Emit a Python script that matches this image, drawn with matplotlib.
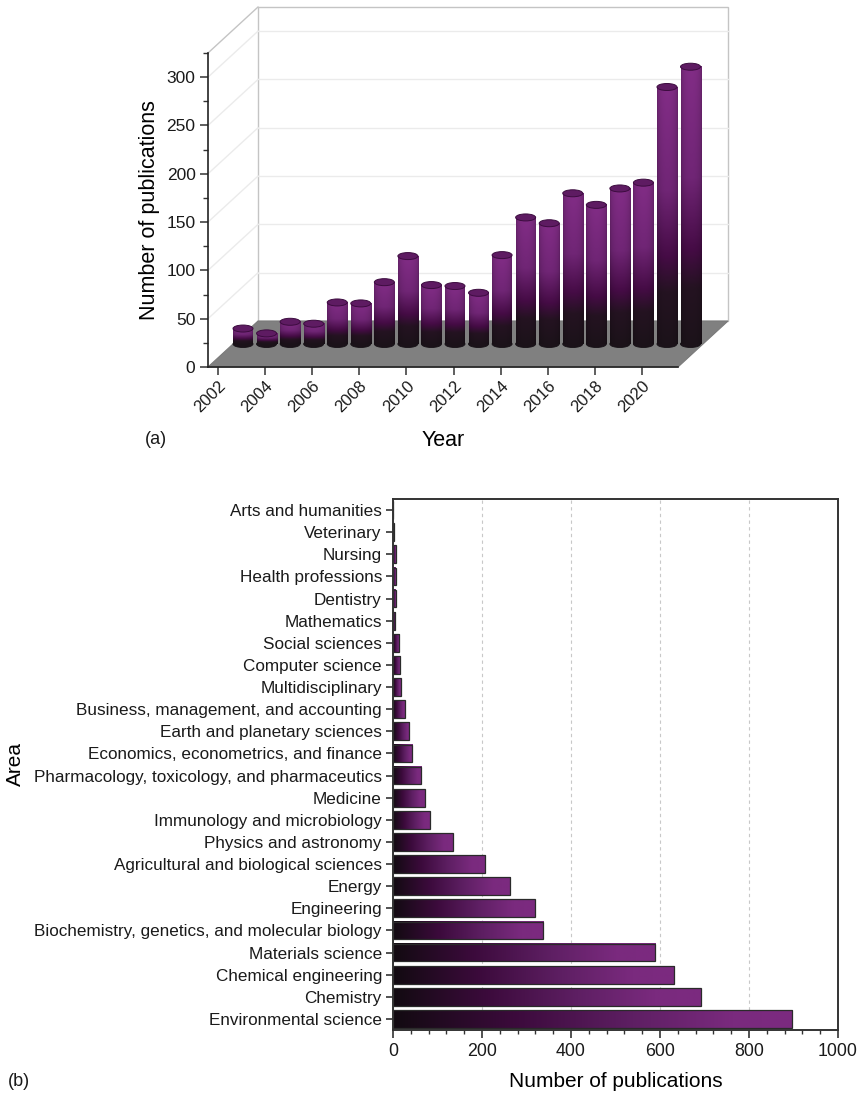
import matplotlib
matplotlib.use("Agg")
import matplotlib.pyplot as plt
import numpy as np
from matplotlib.colors import LinearSegmentedColormap
from matplotlib.patches import Ellipse, Polygon, Rectangle
from matplotlib.ticker import MultipleLocator

plt.rcParams['font.family'] = ['Liberation Sans', 'DejaVu Sans']
plt.rcParams['text.color'] = '#1a1a1a'
plt.rcParams['xtick.color'] = '#333333'
plt.rcParams['ytick.color'] = '#333333'
plt.rcParams['xtick.labelcolor'] = '#1a1a1a'
plt.rcParams['ytick.labelcolor'] = '#1a1a1a'

# publications per year
years = np.arange(2002, 2022)
pubs_per_year = [16, 11, 23, 21, 43, 42, 64, 91, 61, 60,
                 53, 92, 131, 125, 156, 144, 161, 167, 266, 287]

# publications per subject area (bottom to top)
areas = ["Environmental science", "Chemistry", "Chemical engineering",
         "Materials science", "Biochemistry, genetics, and molecular biology",
         "Engineering", "Energy", "Agricultural and biological sciences",
         "Physics and astronomy", "Immunology and microbiology", "Medicine",
         "Pharmacology, toxicology, and pharmaceutics",
         "Economics, econometrics, and finance", "Earth and planetary sciences",
         "Business, management, and accounting", "Multidisciplinary",
         "Computer science", "Social sciences", "Mathematics", "Dentistry",
         "Health professions", "Nursing", "Veterinary", "Arts and humanities"]
area_pubs = [897, 692, 632, 589, 338, 318, 264, 207, 134, 83, 71, 63,
             43, 37, 26, 17, 16, 14, 5, 6, 6, 6, 2, 1]

cyl_cmap = LinearSegmentedColormap.from_list(
    'cyl', [(0, '#1b1219'), (0.2, '#231220'), (0.34, '#430b43'),
            (0.6, '#6c2471'), (1, '#7d2b81')])
bar_cmap = LinearSegmentedColormap.from_list(
    'bar', [(0, '#120b11'), (0.3, '#3b0a3b'), (0.6, '#5e1f63'),
            (0.85, '#7a2a7e'), (1, '#7c2a80')])

W, H = 857, 1093
fig = plt.figure(figsize=(W / 100, H / 100), dpi=100)

# ---------------- (a) pseudo-3D cylinders ----------------
ax_l, ax_t, ax_w, ax_h = 208, 53, 470, 314
ax = fig.add_axes([ax_l / W, 1 - (ax_t + ax_h) / H, ax_w / W, ax_h / H])
ax.patch.set_alpha(0)
xmin, xmax = 2001.575, 2021.53
ymax = 325
ax.set_xlim(xmin, xmax)
ax.set_ylim(0, ymax)

# depth of the box, converted from pixels into data units
px_x = ax_w / (xmax - xmin)
px_y = ax_h / ymax
dx, dy = 50 / px_x, 46 / px_y

wall = Rectangle((xmin + dx, dy), xmax - xmin, ymax, fc='white', ec='#c4c4c4',
                 lw=1, clip_on=False, zorder=0.2)
ax.add_patch(wall)
for v in range(50, 301, 50):
    ax.plot([xmin + dx, xmax + dx], [v + dy, v + dy], color='#ebebeb', lw=1,
            clip_on=False, zorder=0.3)
    ax.plot([xmin, xmin + dx], [v, v + dy], color='#ebebeb', lw=1,
            clip_on=False, zorder=0.3)
ax.plot([xmin, xmin + dx], [ymax, ymax + dy], color='#c4c4c4', lw=1,
        clip_on=False, zorder=0.3)

floor = Polygon([(xmin, 0), (xmax, 0), (xmax + dx, dy), (xmin + dx, dy)],
                closed=True, fc='#808080', ec='#7a7a7a', lw=0.8,
                clip_on=False, zorder=1)
ax.add_patch(floor)

cw = 20 / px_x          # cylinder diameter
eh = 7 / px_y           # ellipse height
base = dy / 2
u = np.linspace(-1, 1, 40)
shade = 0.8 + 0.24 * np.sqrt(1 - u ** 2)
col = cyl_cmap(np.linspace(1, 0, 300))[:, :3]
body = np.clip(col[:, None, :] * shade[None, :, None], 0, 1)

for yr, v in zip(years, pubs_per_year):
    xc = yr + dx / 2
    ax.add_patch(Ellipse((xc, base), cw, eh, fc='#1b1219', ec='#151015',
                         lw=0.6, clip_on=False, zorder=2))
    im = ax.imshow(body, extent=[xc - cw / 2, xc + cw / 2, base, base + v],
                   origin='upper', aspect='auto', interpolation='bilinear',
                   zorder=2.1)
    im.set_clip_on(False)
    ax.add_patch(Ellipse((xc, base + v), cw, eh, fc='#5e1b62', ec='#3c0c3f',
                         lw=0.7, clip_on=False, zorder=2.2))

ax.set_xlim(xmin, xmax)
ax.set_ylim(0, ymax)
ax.set_aspect('auto')

for s in ['top', 'right']:
    ax.spines[s].set_visible(False)
for s in ['left', 'bottom']:
    ax.spines[s].set_color('#222222')
    ax.spines[s].set_linewidth(1.2)
    ax.spines[s].set_zorder(3)

ax.set_xticks(np.arange(2002, 2021, 2))
ax.yaxis.set_major_locator(MultipleLocator(50))
ax.yaxis.set_minor_locator(MultipleLocator(25))
ax.tick_params(axis='both', which='major', direction='out', length=6, width=1.1)
ax.tick_params(axis='y', which='minor', direction='out', length=3.5, width=1)
ax.tick_params(axis='y', labelsize=12.5, pad=3)
ax.tick_params(axis='x', labelsize=12, pad=2)
for lab in ax.get_xticklabels():
    lab.set_rotation(45)
    lab.set_ha('right')
    lab.set_rotation_mode('anchor')

ax.set_xlabel('Year', fontsize=15.5, va='top')
ax.xaxis.set_label_coords(0.5, (ax_t + ax_h - 430) / ax_h)
ax.set_ylabel('Number of publications', fontsize=15.5)
ax.yaxis.set_label_coords((160 - ax_l) / ax_w, 0.5)
fig.text(145 / W, 1 - 440 / H, '(a)', fontsize=13, va='center')

# ---------------- (b) horizontal bars by area ----------------
bx_l, bx_t, bx_w, bx_h = 393, 499, 445, 531
ax2 = fig.add_axes([bx_l / W, 1 - (bx_t + bx_h) / H, bx_w / W, bx_h / H])
grad = bar_cmap(np.linspace(0, 1, 256))[None, :, :3]
bh = 0.8
for i, v in enumerate(area_pubs):
    ax2.imshow(grad, extent=[0, v, i - bh / 2, i + bh / 2], origin='upper',
               aspect='auto', interpolation='bilinear', zorder=2)
    ax2.add_patch(Rectangle((0, i - bh / 2), v, bh, fill=False,
                            ec='#2a2a2a', lw=0.9, zorder=2.1))

ax2.set_xlim(0, 1000)
ax2.set_ylim(-0.5, len(areas) - 0.5)
ax2.set_aspect('auto')
ax2.set_yticks(range(len(areas)))
ax2.set_yticklabels(areas, fontsize=12.3)
ax2.xaxis.set_major_locator(MultipleLocator(200))
ax2.xaxis.set_minor_locator(MultipleLocator(40))
ax2.tick_params(axis='x', which='major', direction='out', length=6, width=1.2,
                labelsize=12.8)
ax2.tick_params(axis='x', which='minor', direction='out', length=3, width=1)
ax2.tick_params(axis='y', direction='out', length=5, width=1.2, pad=3)
ax2.grid(axis='x', which='major', ls=(0, (3, 3)), color='#c8c8c8', lw=0.8)
ax2.set_axisbelow(True)
for s in ax2.spines.values():
    s.set_color('#333333')
    s.set_linewidth(1.4)
    s.set_zorder(3)

ax2.set_xlabel('Number of publications', fontsize=15, va='top')
ax2.xaxis.set_label_coords(0.5, -(1072 - (bx_t + bx_h)) / bx_h)
ax2.set_ylabel('Area', fontsize=15)
ax2.yaxis.set_label_coords((25 - bx_l) / bx_w, 0.5)
fig.text(8 / W, 1 - 1082 / H, '(b)', fontsize=13, va='center')

fig.savefig('out.png', dpi=100)
